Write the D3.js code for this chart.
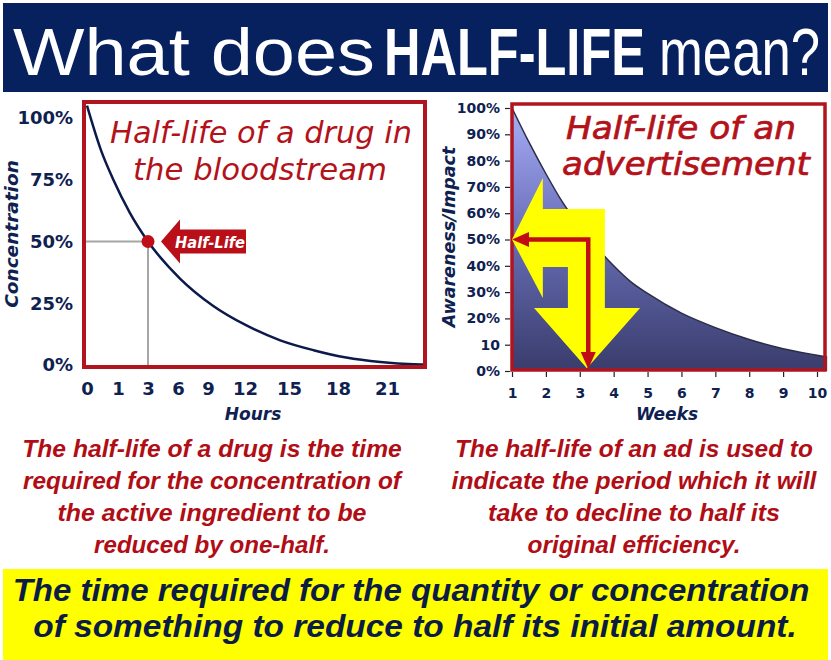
<!DOCTYPE html>
<html><head><meta charset="utf-8">
<script src="https://cdn.jsdelivr.net/npm/d3@7"></script>
<style>html,body{margin:0;padding:0;background:#fff;overflow:hidden}svg{display:block}</style>
</head><body>
<svg id="c" width="831" height="660"></svg>
<script>
// ---------------- DATA ----------------
// Left chart: drug concentration (%) vs hours
const drugTickHours = [0, 1, 3, 6, 9, 12, 15, 18, 21];
const drugTickLabels = ["0", "1", "3", "6", "9", "12", "15", "18", "21"];
const drugConcTicks = [0, 25, 50, 75, 100];
const drugHours = [0, 0.45, 0.85, 1.8, 3, 6.2, 9.4, 12.1, 14.4, 16.5, 18.5, 20.6, 23.1, 24];
const drugConcentration = [105, 87, 75, 61.5, 50, 35, 24, 16, 10, 6, 3, 1.2, 0.3, 0.2];
const drugHalfLife = { hour: 3, value: 50, label: "Half-Life" };

// Right chart: advertisement awareness (%) vs weeks
const adWeeks = [1, 1.5, 2, 2.5, 3, 3.5, 4, 4.5, 5, 6, 7, 8, 9, 10, 10.3];
const adAwareness = [100, 87, 75, 64, 55, 47, 40, 34, 29.5, 22, 16.5, 12, 8.5, 6, 5.3];
const adTickWeeks = [1, 2, 3, 4, 5, 6, 7, 8, 9, 10];
const adTickValues = [0, 10, 20, 30, 40, 50, 60, 70, 80, 90, 100];
const adTickLabels = ["0%", "10", "20%", "30%", "40%", "50%", "60%", "70%", "80%", "90%", "100%"];
const adHalfLife = { week: 3.25, value: 50 };
// yellow U-turn arrow outline, in (week, %) units
const adArrowWeeks = [1, 1.91, 1.91, 3.74, 3.74, 4.78, 3.21, 1.65, 2.65, 2.65, 1.91, 1.91];
const adArrowValues = [50, 73.4, 61.6, 61.6, 24, 24, 1, 24, 24, 39.5, 39.5, 27.8];

// Texts
const headerParts = ["What does", "HALF-LIFE", "mean?"];
const drugTitle = ["Half-life of a drug in", "the bloodstream"];
const adTitle = ["Half-life of an", "advertisement"];
const drugNote = ["The half-life of a drug is the time", "required for the concentration of",
                  "the active ingredient to be", "reduced by one-half."];
const adNote = ["The half-life of an ad is used to", "indicate the period which it will",
                "take to decline to half its", "original efficiency."];
const definition = ["The time required for the quantity or concentration",
                    "of something to reduce to half its initial amount."];

// ---------------- STYLE ----------------
const NAVY = "#0e2150", RED = "#b3121b", BOX = "#b0151f";
const SANS = "Liberation Sans, Arial, sans-serif";
const VERD = "DejaVu Sans, Verdana, sans-serif";
const svg = d3.select("#c");

// place a text so that its width equals w (horizontal scale), anchored at x
function fitText(t, x, y, w, anchor, attrs) {
  const g = svg.append("g");
  const tx = g.append("text").attr("x", 0).attr("y", 0).attr("text-anchor", anchor).text(t);
  Object.entries(attrs).forEach(([k, v]) => tx.attr(k, v));
  const natural = tx.node().getComputedTextLength();
  const k = w / natural;
  g.attr("transform", `translate(${x},${y}) scale(${k},1)`);
  return tx;
}

// ---------------- HEADER ----------------
svg.append("rect").attr("x", 3).attr("y", 3).attr("width", 825).attr("height", 89).attr("fill", "#07215f");
const headerLayout = [{ x: 13, w: 362, b: "normal" }, { x: 384, w: 261, b: "bold" }, { x: 659, w: 161, b: "normal" }];
headerParts.forEach((t, i) => {
  fitText(t, headerLayout[i].x, 75, headerLayout[i].w, "start",
    { "font-family": SANS, "font-size": 67, "font-weight": headerLayout[i].b, fill: "#fff" });
});

// ---------------- LEFT CHART ----------------
const xD = d3.scaleLinear().domain([0, 1, 3, 6, 9, 12, 15, 18, 21, 24])
  .range([87, 118, 148, 178, 208, 245, 289, 338, 387, 425]);
const yD = d3.scaleLinear().domain([0, 100]).range([365, 118]);

// half-life guide lines
svg.append("line").attr("x1", 84).attr("x2", xD(drugHalfLife.hour))
  .attr("y1", yD(drugHalfLife.value)).attr("y2", yD(drugHalfLife.value))
  .attr("stroke", "#a6a6a6").attr("stroke-width", 2);
svg.append("line").attr("x1", xD(drugHalfLife.hour)).attr("x2", xD(drugHalfLife.hour))
  .attr("y1", yD(drugHalfLife.value)).attr("y2", yD(0) + 2)
  .attr("stroke", "#a6a6a6").attr("stroke-width", 2);

const drugData = drugHours.map((h, i) => ({ h, v: drugConcentration[i] }));
svg.append("path").datum(drugData)
  .attr("d", d3.line().x(d => xD(d.h)).y(d => yD(d.v)).curve(d3.curveMonotoneX))
  .attr("fill", "none").attr("stroke", "#0b1a4a").attr("stroke-width", 2.5);

// box
svg.append("rect").attr("x", 84).attr("y", 102).attr("width", 341).attr("height", 265)
  .attr("fill", "none").attr("stroke", BOX).attr("stroke-width", 4);

// axes
const gxD = svg.append("g").attr("transform", "translate(0,367)")
  .call(d3.axisBottom(xD).tickValues(drugTickHours).tickFormat((d, i) => drugTickLabels[i]).tickSize(0).tickPadding(15));
const gyD = svg.append("g").attr("transform", "translate(84,0)")
  .call(d3.axisLeft(yD).tickValues(drugConcTicks).tickFormat(d => d + "%").tickSize(0).tickPadding(11));
[gxD, gyD].forEach(g => {
  g.select(".domain").remove();
  g.selectAll("text").attr("font-family", VERD).attr("font-size", 18)
    .attr("font-weight", "bold").attr("fill", NAVY);
});

// half-life point + label arrow
const hx = xD(drugHalfLife.hour), hy = yD(drugHalfLife.value);
svg.append("circle").attr("cx", hx).attr("cy", hy).attr("r", 6.5).attr("fill", "#c00d17");
const ax = hx + 13;
svg.append("path")
  .attr("d", `M${ax},${hy} L${ax + 19},${hy - 22} L${ax + 19},${hy - 12} L${ax + 85},${hy - 12} L${ax + 85},${hy + 12} L${ax + 19},${hy + 12} L${ax + 19},${hy + 22} Z`)
  .attr("fill", "#b80f19");
fitText(drugHalfLife.label, ax + 49, hy + 6, 70, "middle",
  { "font-family": VERD, "font-size": 15, "font-weight": "bold", "font-style": "italic", fill: "#fff" });

// titles
[[drugTitle[0], 261, 143, 302], [drugTitle[1], 260, 180, 254]].forEach(([t, x, y, w]) => {
  fitText(t, x, y, w, "middle", { "font-family": VERD, "font-size": 30, "font-style": "italic", fill: RED });
});
svg.append("text").attr("transform", "translate(18,234) rotate(-90)").attr("text-anchor", "middle")
  .attr("font-family", VERD).attr("font-size", 18.5).attr("font-weight", "bold")
  .attr("font-style", "italic").attr("fill", NAVY).text("Concentration");
svg.append("text").attr("x", 253).attr("y", 420).attr("text-anchor", "middle")
  .attr("font-family", VERD).attr("font-size", 17).attr("font-weight", "bold")
  .attr("font-style", "italic").attr("fill", NAVY).text("Hours");

// ---------------- RIGHT CHART ----------------
const xA = d3.scaleLinear().domain([1, 10]).range([512, 817]);
const yA = d3.scaleLinear().domain([0, 100]).range([371, 108]);

const defs = svg.append("defs");
const grad = defs.append("linearGradient").attr("id", "areaGrad").attr("gradientUnits", "userSpaceOnUse")
  .attr("x1", 0).attr("x2", 0).attr("y1", yA(100)).attr("y2", yA(0));
[[0, "#a7aff7"], [0.45, "#6b71bb"], [1, "#393c6b"]].forEach(([o, c]) =>
  grad.append("stop").attr("offset", o).attr("stop-color", c));

const adData = adWeeks.map((w, i) => ({ w, v: adAwareness[i] }));
svg.append("path").datum(adData)
  .attr("d", d3.area().x(d => xA(d.w)).y0(yA(0)).y1(d => yA(d.v)).curve(d3.curveMonotoneX))
  .attr("fill", "url(#areaGrad)");
svg.append("path").datum(adData)
  .attr("d", d3.line().x(d => xA(d.w)).y(d => yA(d.v)).curve(d3.curveMonotoneX))
  .attr("fill", "none").attr("stroke", "#2b2d45").attr("stroke-width", 1.5);

// box
svg.append("rect").attr("x", 512).attr("y", 104).attr("width", 313).attr("height", 266)
  .attr("fill", "none").attr("stroke", BOX).attr("stroke-width", 3.5);

// axes
const gxA = svg.append("g").attr("transform", "translate(0,372)")
  .call(d3.axisBottom(xA).tickValues(adTickWeeks).tickFormat(d3.format("d")).tickSize(5).tickPadding(11));
const gyA = svg.append("g").attr("transform", "translate(510,0)")
  .call(d3.axisLeft(yA).tickValues(adTickValues).tickFormat((d, i) => adTickLabels[i]).tickSize(5).tickPadding(5));
[gxA, gyA].forEach(g => {
  g.select(".domain").remove();
  g.selectAll("line").attr("stroke", "#222").attr("stroke-width", 1.2);
  g.selectAll("text").attr("font-family", VERD).attr("font-size", 14)
    .attr("font-weight", "bold").attr("fill", NAVY);
});

// yellow U-turn arrow
const arrowPts = adArrowWeeks.map((w, i) => [xA(w), yA(adArrowValues[i])]);
svg.append("path").attr("d", d3.line()(arrowPts) + "Z").attr("fill", "#ffff00");

// red L arrow to half-life
const rx = xA(adHalfLife.week), ry = yA(adHalfLife.value), lx = xA(1), by = yA(0) - 2;
svg.append("path").attr("d", `M${lx + 14},${ry} L${rx},${ry} L${rx},${by - 14}`)
  .attr("fill", "none").attr("stroke", "#c00d16").attr("stroke-width", 4.5).attr("stroke-linejoin", "miter");
svg.append("path").attr("d", `M${lx},${ry} L${lx + 17},${ry - 7.5} L${lx + 17},${ry + 7.5} Z`).attr("fill", "#c00d16");
svg.append("path").attr("d", `M${rx},${by} L${rx - 7.5},${by - 17} L${rx + 7.5},${by - 17} Z`).attr("fill", "#c00d16");

// titles
[[adTitle[0], 681, 139, 230], [adTitle[1], 686, 175, 248]].forEach(([t, x, y, w]) => {
  fitText(t, x, y, w, "middle", { "font-family": VERD, "font-size": 32, "font-style": "italic",
    fill: RED, stroke: RED, "stroke-width": 0.7 });
});
svg.append("text").attr("transform", "translate(455,237) rotate(-90)").attr("text-anchor", "middle")
  .attr("font-family", VERD).attr("font-size", 17.5).attr("font-weight", "bold")
  .attr("font-style", "italic").attr("fill", NAVY).text("Awareness/Impact");
svg.append("text").attr("x", 667).attr("y", 420).attr("text-anchor", "middle")
  .attr("font-family", VERD).attr("font-size", 17).attr("font-weight", "bold")
  .attr("font-style", "italic").attr("fill", NAVY).text("Weeks");

// ---------------- NOTES ----------------
const noteY = [457, 489, 521, 553];
const drugNoteW = [380, 378, 309, 236];
const adNoteW = [358, 365, 292, 213];
function note(lines, cx, widths) {
  lines.forEach((t, i) => {
    fitText(t, cx, noteY[i], widths[i], "middle", { "font-family": SANS, "font-size": 24,
      "font-weight": "bold", "font-style": "italic", fill: "#b00d15" });
  });
}
note(drugNote, 212, drugNoteW);
note(adNote, 634, adNoteW);

// ---------------- DEFINITION BAND ----------------
svg.append("rect").attr("x", 3).attr("y", 569).attr("width", 825).attr("height", 91).attr("fill", "#ffff00");
[[definition[0], 411, 601, 797], [definition[1], 415, 637, 764]].forEach(([t, x, y, w]) => {
  fitText(t, x, y, w, "middle", { "font-family": SANS, "font-size": 32, "font-weight": "bold",
    "font-style": "italic", fill: "#0b1c45" });
});
</script>
</body></html>
